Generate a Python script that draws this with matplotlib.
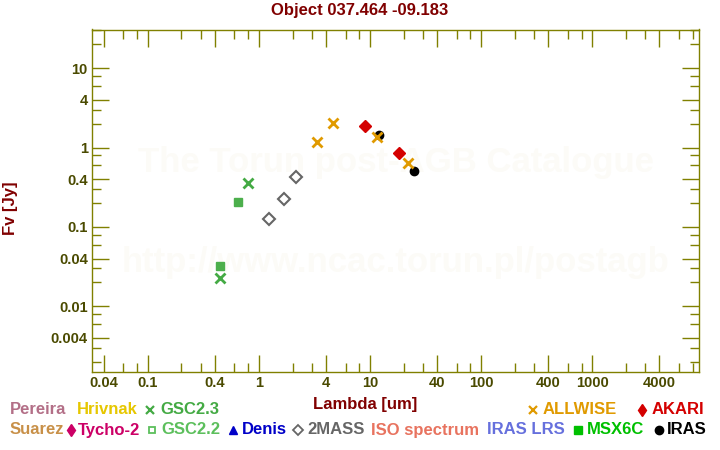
import matplotlib
matplotlib.use("Agg")
import matplotlib.pyplot as plt
from matplotlib.ticker import FixedLocator, FuncFormatter, NullFormatter

plt.rcParams["font.family"] = ["Liberation Sans", "DejaVu Sans"]
plt.rcParams["font.weight"] = "bold"

# photometry: wavelength [um], flux [Jy]
gsc23_wl = [0.80, 0.445]
gsc23_fl = [0.362, 0.023]
gsc22_wl = [0.647, 0.445]
gsc22_fl = [0.208, 0.0325]
twomass_wl = [1.235, 1.662, 2.159]
twomass_fl = [0.127, 0.227, 0.431]
allwise_wl = [3.35, 4.6, 11.56, 22.1]
allwise_fl = [1.19, 2.07, 1.38, 0.634]
akari_wl = [9.0, 18.0]
akari_fl = [1.89, 0.865]
iras_wl = [12.0, 25.0]
iras_fl = [1.44, 0.513]

x_labeled = [0.04, 0.1, 0.4, 1, 4, 10, 40, 100, 400, 1000, 4000]
y_labeled = [0.004, 0.01, 0.04, 0.1, 0.4, 1, 4, 10]
minor_steps = [2, 3, 6, 8]

# legend rows: (marker, marker x, label, text x, colour)
legend_row1 = [
    (None, 0, "Pereira", 10, "#b36f87"),
    (None, 0, "Hrivnak", 77, "#e6c700"),
    ("x", 150, "GSC2.3", 160, "#44aa44"),
    ("x", 533, "ALLWISE", 543, "#e09a00"),
    ("d", 642, "AKARI", 652, "#d40000"),
]
legend_row2 = [
    (None, 0, "Suarez", 10, "#c89048"),
    ("d", 71, "Tycho-2", 78, "#cc0066"),
    ("s", 152, "GSC2.2", 161, "#5cbf5c"),
    ("^", 233, "Denis", 242, "#0000c8"),
    ("D", 298, "2MASS", 307, "#666666"),
    (None, 0, "ISO spectrum", 371, "#e8735f"),
    (None, 0, "IRAS LRS", 487, "#6670dd"),
    ("s", 578, "MSX6C", 587, "#00c000"),
    ("o", 659, "IRAS", 667, "black"),
]

olive = "#808000"
tick_col = "#4a4a00"
dark_red = "#800000"

fig = plt.figure(figsize=(7.2, 4.5), dpi=100)
ax = fig.add_axes([92 / 720, 1 - 371.5 / 450, 607 / 720, 342 / 450])
ax.set_xscale("log")
ax.set_yscale("log")
ax.set_xlim(0.03129, 9143)
ax.set_ylim(0.00151, 30.8)

# watermark
ax.text(0.5, 0.61, "The Torun post-AGB Catalogue", transform=ax.transAxes,
        ha="center", va="center", fontsize=25, color="#fcfbf7", zorder=0)
ax.text(0.5, 0.32, "http://www.ncac.torun.pl/postagb", transform=ax.transAxes,
        ha="center", va="center", fontsize=25, color="#fcfbf7", zorder=0)

ax.plot(gsc23_wl, gsc23_fl, "x", color="#44aa44", ms=6.5, mew=2)
ax.plot(gsc22_wl, gsc22_fl, "s", color="#4caf4c", ms=6)
ax.plot(twomass_wl, twomass_fl, "D", mfc="none", mec="#666666", ms=6, mew=1.5)
ax.plot(iras_wl, iras_fl, "o", color="black", ms=6)
ax.plot(allwise_wl, allwise_fl, "x", color="#e09a00", ms=6.5, mew=2)
ax.plot(akari_wl, akari_fl, "D", color="#d40000", ms=6.5)

def decade_ticks(lo, hi):
    return [m * 10.0 ** e for e in range(lo, hi) for m in minor_steps]

fmt = FuncFormatter(lambda v, p: f"{v:g}")
ax.xaxis.set_major_locator(FixedLocator(x_labeled))
ax.xaxis.set_minor_locator(FixedLocator(decade_ticks(-2, 4)))
ax.yaxis.set_major_locator(FixedLocator(y_labeled))
ax.yaxis.set_minor_locator(FixedLocator(decade_ticks(-3, 2)))
ax.xaxis.set_major_formatter(fmt)
ax.yaxis.set_major_formatter(fmt)
ax.xaxis.set_minor_formatter(NullFormatter())
ax.yaxis.set_minor_formatter(NullFormatter())

ax.tick_params(which="both", direction="in", top=True, right=True,
               color=olive, width=1.0, labelcolor=tick_col, labelsize=10.5)
ax.tick_params(which="major", length=12.2, pad=3)
ax.tick_params(which="minor", length=6.5)
for sp in ax.spines.values():
    sp.set_color(olive)
    sp.set_linewidth(1.0)

fig.text(0.5, 1 - 11 / 450, "Object 037.464 -09.183", ha="center", va="center",
         fontsize=12, color=dark_red)
fig.text(365 / 720, 1 - 405 / 450, "Lambda [um]", ha="center", va="center",
         fontsize=12, color=dark_red)
fig.text(11 / 720, 1 - 208 / 450, "Fv [Jy]", ha="center", va="center",
         rotation=90, fontsize=12, color=dark_red)

# legend drawn in pixel coordinates
lg = fig.add_axes([0, 0, 1, 1], facecolor="none")
lg.set_xlim(0, 720)
lg.set_ylim(450, 0)
lg.axis("off")
for row, y in ((legend_row1, 410), (legend_row2, 430)):
    for mk, mx, label, tx, col in row:
        if mk == "D":
            lg.plot(mx, y, mk, mfc="none", mec=col, ms=5, mew=1.3)
        elif mk == "s" and label == "GSC2.2":
            lg.plot(mx, y, mk, mfc="none", mec=col, ms=5, mew=1.3)
        elif mk == "x":
            lg.plot(mx, y, mk, color=col, ms=5.5, mew=1.6)
        elif mk is not None:
            lg.plot(mx, y, mk, color=col, ms=6)
        lg.text(tx, y, label, ha="left", va="center", fontsize=12, color=col)

fig.savefig("out.png", dpi=100)
